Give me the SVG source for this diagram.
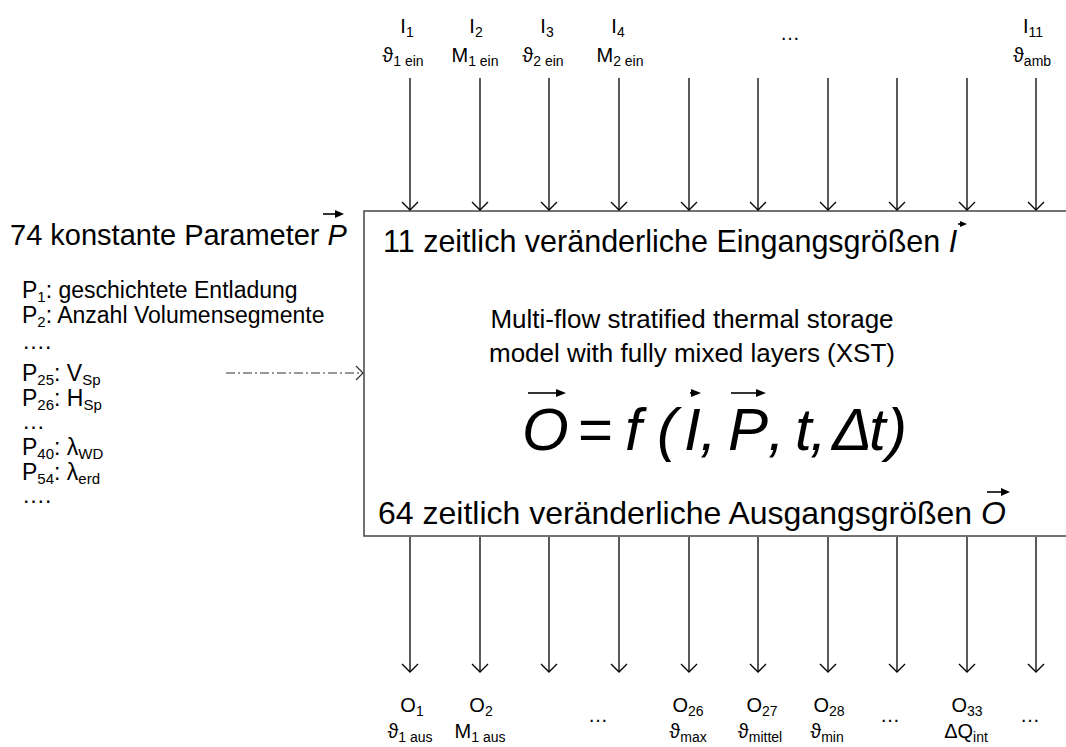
<svg xmlns="http://www.w3.org/2000/svg" width="1066" height="747" viewBox="0 0 1066 747">
<style>
text{font-family:"Liberation Sans","DejaVu Sans",Arial,sans-serif;fill:#000}
.lbl{font-size:20px;text-anchor:middle}
.sub{font-size:14px}
.lst{font-size:23px}
.lsub{font-size:15px}
.big{font-size:30.5px}
.mid{font-size:26px;text-anchor:middle}
.f{font-size:60px;font-style:italic}
.ar{stroke:#000;stroke-width:1.3;fill:none}
.vec{stroke:#000;stroke-width:1.6;fill:none}
</style>
<defs>
<marker id="ah" markerUnits="userSpaceOnUse" markerWidth="20" markerHeight="20" viewBox="-10 -10 20 20" refX="0" refY="0" orient="auto">
<path d="M-8,-8 L0,0 L-8,8" fill="none" stroke="#000" stroke-width="1.3"/>
</marker>
<marker id="ahg" markerUnits="userSpaceOnUse" markerWidth="20" markerHeight="20" viewBox="-10 -10 20 20" refX="0" refY="0" orient="auto">
<path d="M-7,-7 L0,0 L-7,7" fill="none" stroke="#333" stroke-width="1.2"/>
</marker>
</defs>
<rect width="1066" height="747" fill="#fff"/>

<g id="model">
<rect x="364" y="211" width="720" height="325" fill="#fff" stroke="#444" stroke-width="1.5"/>
<text class="big" x="383" y="252">11 zeitlich veränderliche Eingangsgrößen <tspan font-style="italic">I</tspan></text>
<path d="M958,224 L962,224" class="vec" stroke-width="1.2"/><path d="M967,224 L960,221 L960,227 Z" fill="#000"/>
<text class="mid" x="692" y="328">Multi-flow stratified thermal storage</text>
<text class="mid" x="692" y="362">model with fully mixed layers (XST)</text>
<g id="formula">
<text class="f" y="450"><tspan x="522">O</tspan><tspan x="578" font-style="normal">=</tspan><tspan x="625">f</tspan><tspan x="657">(</tspan><tspan x="684">I</tspan><tspan x="700">,</tspan><tspan x="728">P</tspan><tspan x="768">,</tspan><tspan x="795">t</tspan><tspan x="810">,</tspan><tspan x="832">Δ</tspan><tspan x="869">t</tspan><tspan x="887">)</tspan></text>
<path d="M528,393 L560,393" class="vec"/><path d="M566,393 L556,389 L556,397 Z" fill="#000"/>
<path d="M690,393 L694,393" class="vec"/><path d="M701,393 L691,389 L691,397 Z" fill="#000"/>
<path d="M731,393 L759,393" class="vec"/><path d="M766,393 L756,389 L756,397 Z" fill="#000"/>
</g>
<text style="font-size:32px" x="378" y="524">64 zeitlich veränderliche Ausgangsgrößen <tspan font-style="italic">O</tspan></text>
<path d="M987,492 L1004,492" class="vec"/><path d="M1010,492 L1001,488 L1001,496 Z" fill="#000"/>
</g>

<g id="parameters">
<text style="font-size:29px" x="10" y="245">74 konstante Parameter <tspan font-style="italic">P</tspan></text>
<path d="M323,214 L338,214" class="vec"/><path d="M344,214 L335,210 L335,218 Z" fill="#000"/>
<text class="lst" x="22" y="298">P<tspan class="lsub" dy="4">1</tspan><tspan dy="-4">: geschichtete Entladung</tspan></text>
<text class="lst" x="22" y="323">P<tspan class="lsub" dy="4">2</tspan><tspan dy="-4">: Anzahl Volumensegmente</tspan></text>
<text class="lst" x="22" y="349">….</text>
<text class="lst" x="22" y="381">P<tspan class="lsub" dy="4">25</tspan><tspan dy="-4">: V</tspan><tspan class="lsub" dy="4">Sp</tspan></text>
<text class="lst" x="22" y="406">P<tspan class="lsub" dy="4">26</tspan><tspan dy="-4">: H</tspan><tspan class="lsub" dy="4">Sp</tspan></text>
<text class="lst" x="22" y="429">…</text>
<text class="lst" x="22" y="455">P<tspan class="lsub" dy="4">40</tspan><tspan dy="-4">: λ</tspan><tspan class="lsub" dy="4">WD</tspan></text>
<text class="lst" x="22" y="480">P<tspan class="lsub" dy="4">54</tspan><tspan dy="-4">: λ</tspan><tspan class="lsub" dy="4">erd</tspan></text>
<text class="lst" x="22" y="503">….</text>
</g>

<g id="inputs">
<text class="lbl" x="407" y="33">I<tspan class="sub" dy="4">1</tspan></text>
<text class="lbl" x="403" y="62">ϑ<tspan class="sub" dy="4">1 ein</tspan></text>
<text class="lbl" x="476" y="33">I<tspan class="sub" dy="4">2</tspan></text>
<text class="lbl" x="475" y="62">M<tspan class="sub" dy="4">1 ein</tspan></text>
<text class="lbl" x="547" y="33">I<tspan class="sub" dy="4">3</tspan></text>
<text class="lbl" x="543" y="62">ϑ<tspan class="sub" dy="4">2 ein</tspan></text>
<text class="lbl" x="618" y="33">I<tspan class="sub" dy="4">4</tspan></text>
<text class="lbl" x="620" y="62">M<tspan class="sub" dy="4">2 ein</tspan></text>
<text class="lbl" x="790" y="40">…</text>
<text class="lbl" x="1033" y="33">I<tspan class="sub" dy="4">11</tspan></text>
<text class="lbl" x="1032" y="62">ϑ<tspan class="sub" dy="4">amb</tspan></text>
</g>

<g id="outputs">
<text class="lbl" x="412" y="712">O<tspan class="sub" dy="4">1</tspan></text>
<text class="lbl" x="410" y="738">ϑ<tspan class="sub" dy="4">1 aus</tspan></text>
<text class="lbl" x="481" y="712">O<tspan class="sub" dy="4">2</tspan></text>
<text class="lbl" x="480" y="738">M<tspan class="sub" dy="4">1 aus</tspan></text>
<text class="lbl" x="598" y="722">…</text>
<text class="lbl" x="688" y="712">O<tspan class="sub" dy="4">26</tspan></text>
<text class="lbl" x="688" y="738">ϑ<tspan class="sub" dy="4">max</tspan></text>
<text class="lbl" x="762" y="712">O<tspan class="sub" dy="4">27</tspan></text>
<text class="lbl" x="760" y="738">ϑ<tspan class="sub" dy="4">mittel</tspan></text>
<text class="lbl" x="829" y="712">O<tspan class="sub" dy="4">28</tspan></text>
<text class="lbl" x="827" y="738">ϑ<tspan class="sub" dy="4">min</tspan></text>
<text class="lbl" x="890" y="722">…</text>
<text class="lbl" x="967" y="712">O<tspan class="sub" dy="4">33</tspan></text>
<text class="lbl" x="966" y="738">ΔQ<tspan class="sub" dy="4">int</tspan></text>
<text class="lbl" x="1030" y="722">…</text>
</g>

<g id="connectors">
<g class="ar" marker-end="url(#ah)">
<path d="M410,78 V210"/><path d="M480,78 V210"/><path d="M549,78 V210"/><path d="M619,78 V210"/><path d="M689,78 V210"/>
<path d="M758,78 V210"/><path d="M828,78 V210"/><path d="M897,78 V210"/><path d="M967,78 V210"/><path d="M1036,78 V210"/>
<path d="M410,537 V672"/><path d="M480,537 V672"/><path d="M549,537 V672"/><path d="M619,537 V672"/><path d="M689,537 V672"/>
<path d="M758,537 V672"/><path d="M828,537 V672"/><path d="M897,537 V672"/><path d="M967,537 V672"/><path d="M1036,537 V672"/>
</g>
<path d="M226,373 H363" fill="none" stroke="#333" stroke-width="1.2" stroke-dasharray="9,3,2,3" marker-end="url(#ahg)"/>
</g>
</svg>
